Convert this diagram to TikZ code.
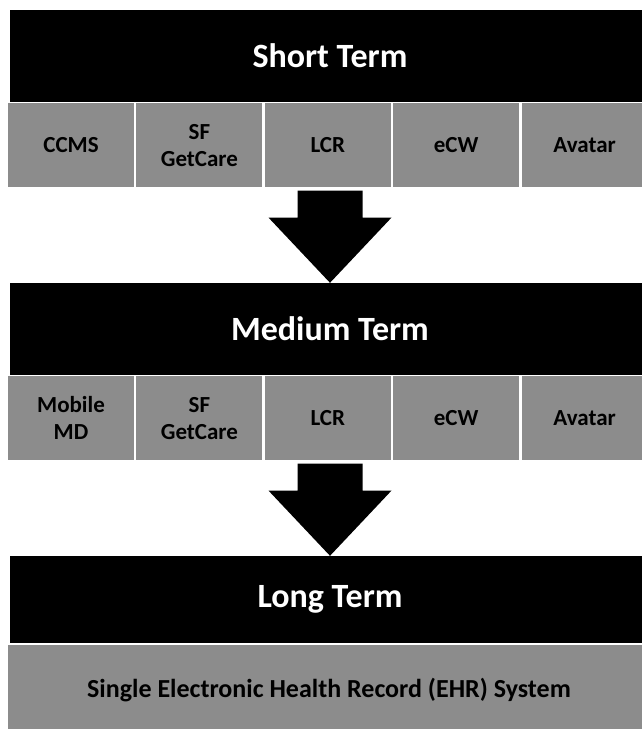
\documentclass[tikz,border=0pt]{standalone}
\usepackage{fontspec}
\setmainfont{Carlito}
\usetikzlibrary{positioning,calc}

% block arrow from the middle system box down to the next bar
\newcommand{\stagearrow}[2]{%
  \fill let \p1=(#1.south), \p2=(#2.north) in
    (\x2-32.5,\y1-3) -- (\x2+32.5,\y1-3) -- (\x2+32.5,\y1-30) -- (\x2+61.5,\y1-30)
    -- (\x2,\y2) -- (\x2-61.5,\y1-30) -- (\x2-32.5,\y1-30) -- cycle;}

\begin{document}
\begin{tikzpicture}[%Roadmap
  x=1pt, y=-1pt,
  phasebar/.style={fill=black, text=white, minimum width=640pt, minimum height=92pt,
    inner sep=0pt, font=\bfseries\fontsize{34}{40}\selectfont},
  systembox/.style={fill=black!45, text=black, minimum width=126pt, minimum height=84pt,
    inner sep=0pt, align=center, font=\bfseries\fontsize{23}{27}\selectfont}
]
\useasboundingbox (0,0) rectangle (642,729);
\clip (0,0) rectangle (642,729);

%Bars
\node[phasebar] (short) at (330,56) {Short Term};
\node[phasebar] (medium) at (330,329) {Medium Term};
\node[phasebar, minimum height=87pt] (long) at (330,599.5) {Long Term};

%Systems short term
\node[systembox, below=1pt of short.south west, anchor=north west, xshift=-2pt] (s1) {CCMS};
\node[systembox, right=2pt of s1] (s2) {SF\\GetCare};
\node[systembox, right=2pt of s2] (s3) {LCR};
\node[systembox, right=2pt of s3] (s4) {eCW};
\node[systembox, right=2pt of s4] (s5) {Avatar};

%Systems medium term
\node[systembox, below=1pt of medium.south west, anchor=north west, xshift=-2pt] (m1) {Mobile\\MD};
\node[systembox, right=2pt of m1] (m2) {SF\\GetCare};
\node[systembox, right=2pt of m2] (m3) {LCR};
\node[systembox, right=2pt of m3] (m4) {eCW};
\node[systembox, right=2pt of m4] (m5) {Avatar};

%System long term
\node[systembox, below=2pt of long.south west, anchor=north west, xshift=-2pt,
  minimum width=642pt, minimum height=90pt, font=\bfseries\fontsize{26}{30}\selectfont]
  (ehr) {Single Electronic Health Record (EHR) System};

%Arrows
\stagearrow{s3}{medium}
\stagearrow{m3}{long}
\end{tikzpicture}
\end{document}
